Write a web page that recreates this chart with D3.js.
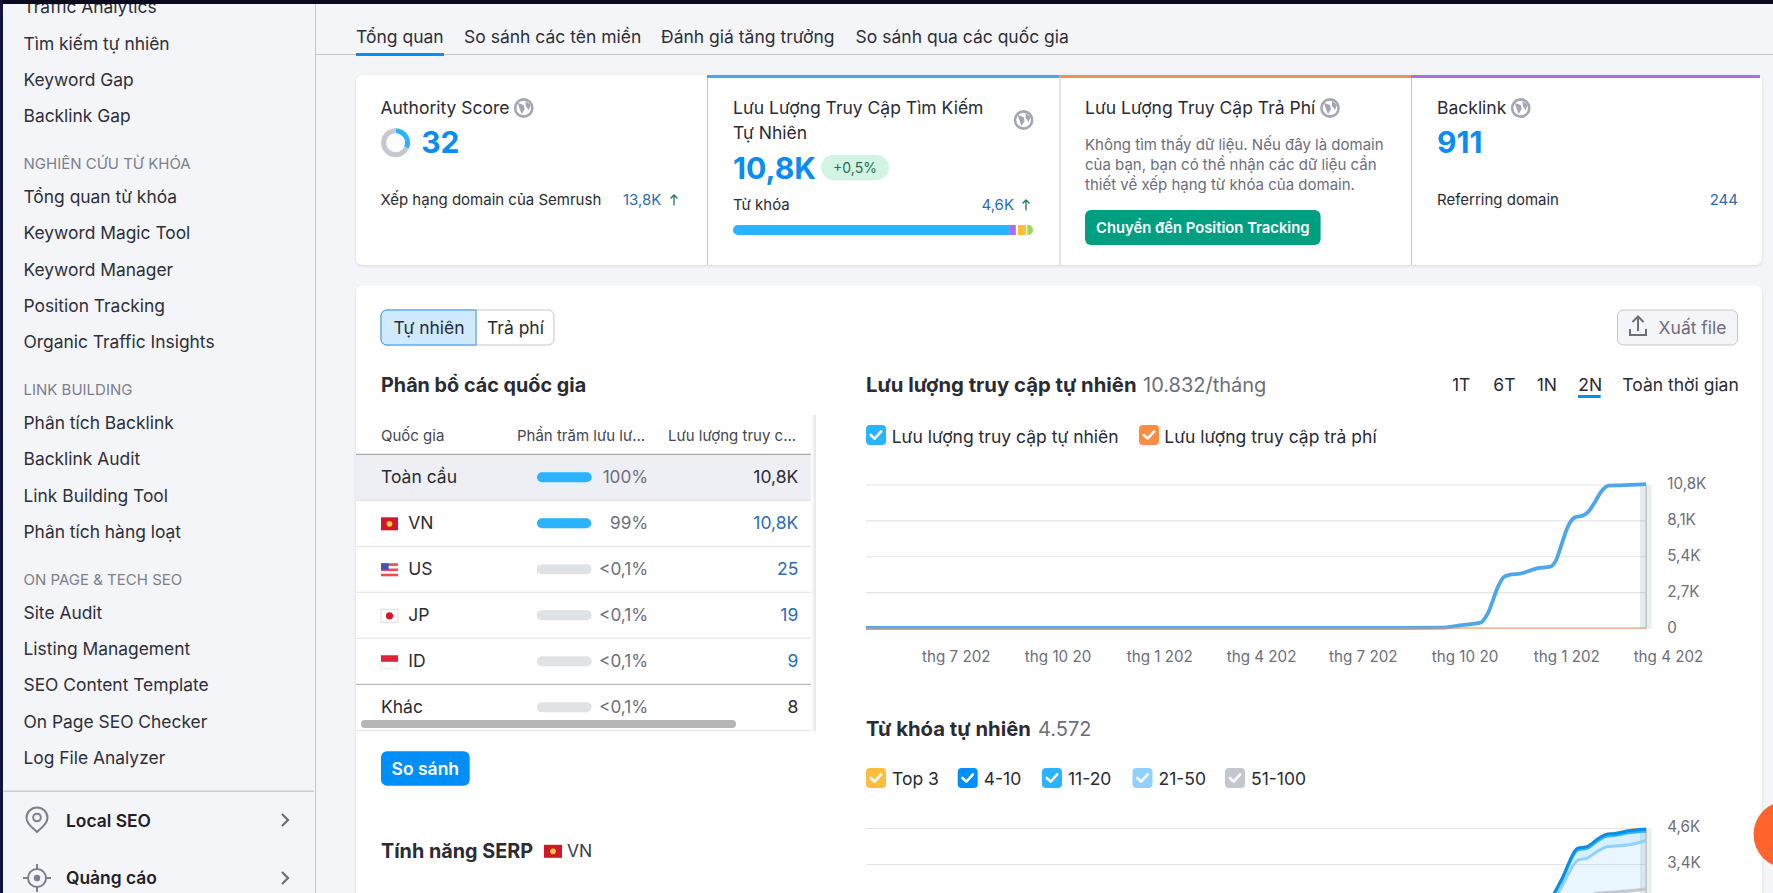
<![CDATA[<!DOCTYPE html>
<html lang="vi"><head><meta charset="utf-8">
<script src="https://cdn.jsdelivr.net/npm/d3@7/dist/d3.min.js"></script>
<style>html,body{margin:0;padding:0;background:#f4f5f9;overflow:hidden;width:1773px;height:893px}svg{display:block;font-family:Inter,"Noto Sans",sans-serif}</style>
</head><body><svg id="c" width="1773" height="893"></svg>
<script>
// ---------- DATA ----------
const months=["2022-05","2022-06","2022-07","2022-08","2022-09","2022-10","2022-11","2022-12","2023-01","2023-02","2023-03","2023-04","2023-05","2023-06","2023-07","2023-08","2023-09","2023-10","2023-11","2023-12","2024-01","2024-02","2024-03","2024-04"];
const xTickMonths=["2022-07","2022-10","2023-01","2023-04","2023-07","2023-10","2024-01","2024-04"];
const xTickLabels=["thg 7 202","thg 10 20","thg 1 202","thg 4 202","thg 7 202","thg 10 20","thg 1 202","thg 4 202"];
// organic traffic read along the drawn curve; position is in months from the first month
const organicPos=[0,2,4,6,8,10,12,14,16,17,17.5,18.12,18.31,18.66,18.8,19,19.29,19.78,20.18,20.35,20.52,20.72,20.91,21.16,21.3,21.5,21.7,21.9,22.24,23];
const organicTraffic=[2,3,3,4,5,5,6,7,8,25,201,401,978,3236,3813,4014,4089,4491,4616,5118,6372,7752,8329,8479,8755,9508,10335,10712,10737,10832];
const paidTraffic=[0,0,0,0,0,0,0,0,0,0,0,0,0,0,0,0,0,0,0,0,0,0,0,0];
const trafficTicks=[0,2700,5400,8100,10800];
const trafficTickLabels=["0","2,7K","5,4K","8,1K","10,8K"];
// keyword series read along the drawn curves, same position unit
const kwPos=[0,1,2,3,4,5,6,7,8,9,10,11,12,13,14,15,16,17,18,19,20,20.5,21,21.25,21.6,21.85,22.1,22.45,23];
const kwTop3=[0,0,0,0,0,0,0,0,0,0,0,0,0,0,0,0,0,0,0,1,8,8,5,5,5,6,6,8,14];
const kw4to10=[0,0,0,0,0,0,0,0,0,0,0,0,0,0,0,0,0,0,1,4,22,30,50,50,55,60,60,60,60];
const kw11to20=[0,0,0,0,0,0,0,0,0,0,0,0,0,0,0,0,0,1,7,25,128,200,328,315,336,340,340,389,304];
const kw21to50=[0,0,0,0,0,0,1,1,1,1,1,1,1,1,2,2,2,5,22,95,620,880,1182,1205,1351,1463,1469,1469,1543];
const kw51to100=[1,1,1,1,2,2,2,2,2,3,3,3,3,3,4,4,5,12,55,190,1170,1820,2395,2427,2523,2539,2555,2587,2651];
const kwTicks=[3450,4600];
const kwTickLabels=["3,4K","4,6K"];
const kwSeriesNames=["Top 3","4-10","11-20","21-50","51-100"];
const kwSeriesColors=["#ffbd3d","#008ff8","#2bb3ff","#8fd0ff","#c4c7cf"];
const countries=["Toàn cầu","VN","US","JP","ID","Khác"];
const countryShare=[100,99,0.23,0.18,0.08,0.07];
const countryShareLabels=["100%","99%","<0,1%","<0,1%","<0,1%","<0,1%"];
const countryTraffic=["10,8K","10,8K","25","19","9","8"];
const keywordBarShare=[92.3,2,0.7,2.8,0.3,1.9];
const keywordBarColors=["#2bb3ff","#ae6ce6","#ffffff","#ffbd3d","#ffffff","#9ed84f"];
const authorityScore=32;
const sidebarGroups=[
 {head:null,items:["Traffic Analytics","Tìm kiếm tự nhiên","Keyword Gap","Backlink Gap"]},
 {head:"NGHIÊN CỨU TỪ KHÓA",items:["Tổng quan từ khóa","Keyword Magic Tool","Keyword Manager","Position Tracking","Organic Traffic Insights"]},
 {head:"LINK BUILDING",items:["Phân tích Backlink","Backlink Audit","Link Building Tool","Phân tích hàng loạt"]},
 {head:"ON PAGE & TECH SEO",items:["Site Audit","Listing Management","SEO Content Template","On Page SEO Checker","Log File Analyzer"]}];
const rangeLabels=["1T","6T","1N","2N","Toàn thời gian"];
const tabs=["Tổng quan","So sánh các tên miền","Đánh giá tăng trưởng","So sánh qua các quốc gia"];

// ---------- HELPERS ----------
const svg=d3.select("#c");
const defs=svg.append("defs");
const sh=defs.append("filter").attr("id","sh").attr("x","-5%").attr("y","-5%").attr("width","110%").attr("height","115%");
sh.append("feDropShadow").attr("dx",0).attr("dy",1).attr("stdDeviation",1.5).attr("flood-color","#000").attr("flood-opacity",.12);
const DARK="#2a2b33",GREY="#6c6e79",LINK="#2a6cb5",BLUE="#008ff8";
const F=17.5,FS=15;
function T(g,s,x,cy,o={}){
  const size=o.size||F;
  return g.append("text").text(s).attr("x",x).attr("y",cy+size*0.36)
    .attr("font-size",size).attr("font-weight",o.w||400).attr("fill",o.fill||DARK)
    .attr("text-anchor",o.anchor||"start");
}
function R(g,x,y,w,h,f,r=0){return g.append("rect").attr("x",x).attr("y",y).attr("width",w).attr("height",h).attr("fill",f).attr("rx",r);}
function globe(g,x,y){
  const a=g.append("g").attr("transform",`translate(${x},${y})`);
  a.append("circle").attr("r",8.6).attr("fill","#fff").attr("stroke","#a4a6b3").attr("stroke-width",2.6);
  a.append("path").attr("d","M-6,-5 L0,-3 L1,1 L-2,6 L-4,1 Z M2,-7 L7,-3 L5,2 L2,-2 Z").attr("fill","#a4a6b3");
}
function check(g,x,y,c,s=20){
  R(g,x,y,s,s,c,4);
  g.append("path").attr("d",`M${x+s*.24},${y+s*.5} L${x+s*.43},${y+s*.68} L${x+s*.76},${y+s*.32}`)
   .attr("fill","none").attr("stroke","#fff").attr("stroke-width",2.6).attr("stroke-linecap","round").attr("stroke-linejoin","round");
}
function flag(g,code,x,cy,w=17,h=13){
  const y=cy-h/2, a=g.append("g");
  if(code==="VN"){R(a,x,y,w,h,"#d5152b");a.append("circle").attr("cx",x+w/2).attr("cy",cy).attr("r",h*.22).attr("fill","#fcd03a");}
  if(code==="US"){R(a,x,y,w,h,"#fff");[0,2,4].forEach(i=>R(a,x,y+i*h/5,w,h/5,"#ef4a55"));R(a,x,y,w*.45,h*.5,"#4650b8");}
  if(code==="JP"){R(a,x,y,w,h,"#fff").attr("stroke","#dcdde2");a.append("circle").attr("cx",x+w/2).attr("cy",cy).attr("r",h*.28).attr("fill","#d5152b");}
  if(code==="ID"){R(a,x,y,w,h,"#fff").attr("stroke","#e6e7ea");R(a,x,y,w,h/2,"#e2203a");}
}

// ---------- SIDEBAR ----------
const side=svg.append("g");
R(side,315,0,1,893,"#c4c7cf");
let sy=7.2;
sidebarGroups.forEach((grp,gi)=>{
  if(grp.head){sy+=47.4-36.25;T(side,grp.head,23.5,sy+.6,{size:15,fill:"#7d7f8a"});sy+=33.6;}
  grp.items.forEach(it=>{T(side,it,23.5,sy,{size:17.4,fill:"#2e2f38"});sy+=36.25;});
});
R(side,3,790.5,311,1.3,"#c4c7cf");
T(side,"Local SEO",66,820.3,{size:17.4,w:600,fill:"#1f2027"});
T(side,"Quảng cáo",66,877.7,{size:17.4,w:600,fill:"#1f2027"});
const pin=side.append("g").attr("transform","translate(37,820)").attr("fill","none").attr("stroke","#7d7f8a").attr("stroke-width",2);
pin.append("path").attr("d","M0,12 C-4,8 -10.5,4 -10.5,-2 A10.5,10.5 0 1 1 10.5,-2 C10.5,4 4,8 0,12 Z");
pin.append("circle").attr("cy",-2.5).attr("r",3.8);
const tgt=side.append("g").attr("transform","translate(37,878)").attr("fill","none").attr("stroke","#7d7f8a").attr("stroke-width",2);
tgt.append("circle").attr("r",9);tgt.append("circle").attr("r",2.2).attr("fill","#7d7f8a");
tgt.append("path").attr("d","M0,-14 V-9 M0,9 V14 M-14,0 H-9 M9,0 H14");
[820,878].forEach(y=>side.append("path").attr("d",`M282,${y-6} L288,${y} L282,${y+6}`).attr("fill","none").attr("stroke","#6c6e79").attr("stroke-width",2.2));

// ---------- TABS ----------
R(svg,316,54,1457,1,"#c4c7cf");
[356,464,661,855.6].forEach((x,i)=>T(svg,tabs[i],x,37,{fill:"#2e2f38"}));
R(svg,356,53,88,3,BLUE);

// ---------- KPI CARDS ----------
const cards=svg.append("g");
R(cards,356,75,1406,190,"#fff",7).attr("filter","url(#sh)");
[707,1059.5,1411].forEach(x=>R(cards,x,75,1,190,"#c4c7cf"));
R(cards,707,75,352.5,3,"#4ea6ea");R(cards,1059.5,75,351.5,3,"#f58f54");R(cards,1411,75,349,3,"#ae6ce6");

T(cards,"Authority Score",380.4,108);globe(cards,523.7,108);
const donut=cards.append("g").attr("transform","translate(395.6,142.7)");
const arcGen=d3.arc().innerRadius(9.5).outerRadius(14.5);
const pieData=d3.pie().sort(null)([authorityScore,100-authorityScore]);
donut.selectAll("path").data(pieData).join("path").attr("d",arcGen).attr("fill",(d,i)=>i?"#c4c7cf":"#2bb3ff");
T(cards,String(authorityScore),421.2,142.3,{size:30,w:700,fill:"#0a8cf0"});
T(cards,"Xếp hạng domain của Semrush",380.4,200,{size:FS});
T(cards,"13,8K",623,200,{size:FS,fill:LINK});
function up(g,x,y){g.append("path").attr("d",`M${x},${y+5.5} V${y-5} M${x-3.5},${y-1.5} L${x},${y-5} L${x+3.5},${y-1.5}`).attr("fill","none").attr("stroke","#1f7a5c").attr("stroke-width",1.3);}
up(cards,674,200);

T(cards,"Lưu Lượng Truy Cập Tìm Kiếm",733,108);T(cards,"Tự Nhiên",733,132.7);globe(cards,1023.6,120);
T(cards,"10,8K",733,167.7,{size:30.2,w:700,fill:"#0a8cf0"});
R(cards,821,155,68,25,"#d1f5e2",12.5);
T(cards,"+0,5%",855,167.5,{size:14,fill:"#1f6e4e",anchor:"middle"});
T(cards,"Từ khóa",733,205,{size:FS});T(cards,"4,6K",1014,205,{size:FS,fill:LINK,anchor:"end"});up(cards,1026,205);
const kwBarX=d3.scaleLinear().domain([0,d3.sum(keywordBarShare)]).range([733,1033]);
defs.append("clipPath").attr("id","kwb").append("rect").attr("x",733).attr("y",225).attr("width",300).attr("height",10).attr("rx",5);
let acc=0;
cards.append("g").attr("clip-path","url(#kwb)").selectAll("rect").data(keywordBarShare).join("rect")
 .each(function(d,i){d3.select(this).attr("x",kwBarX(acc)).attr("width",kwBarX(acc+d)-kwBarX(acc));acc+=d;})
 .attr("y",225).attr("height",10).attr("fill",(d,i)=>keywordBarColors[i]);

T(cards,"Lưu Lượng Truy Cập Trả Phí",1085,108);globe(cards,1330,108);
["Không tìm thấy dữ liệu. Nếu đây là domain","của bạn, bạn có thể nhận các dữ liệu cần","thiết về xếp hạng từ khóa của domain."].forEach((s,i)=>T(cards,s,1085,145+i*20,{size:FS,fill:GREY}));
R(cards,1085,210,235.6,35,"#009f81",6);
T(cards,"Chuyển đến Position Tracking",1202.8,227.5,{size:14.8,w:600,fill:"#fff",anchor:"middle"});

T(cards,"Backlink",1437,108);globe(cards,1520.7,108);
T(cards,"911",1437,142.3,{size:30,w:700,fill:"#0a8cf0"});
T(cards,"Referring domain",1437,200,{size:FS});T(cards,"244",1738,200,{size:FS,fill:LINK,anchor:"end"});

// ---------- MAIN PANEL ----------
const panel=svg.append("g");
R(panel,356,285,1406,700,"#fff",7).attr("filter","url(#sh)");
// toggle
R(panel,381,310,173,35,"#fff",6).attr("stroke","#c4c7cf");
panel.append("path").attr("d","M476,310 H387 a6,6 0 0 0 -6,6 V339 a6,6 0 0 0 6,6 H476 Z").attr("fill","#cfe9ff").attr("stroke","#3a8fd6");
T(panel,"Tự nhiên",429,328,{anchor:"middle"});T(panel,"Trả phí",515.5,328,{anchor:"middle"});
// export
R(panel,1617.5,310,120,35,"#f4f5f9",6).attr("stroke","#c4c7cf");
panel.append("path").attr("d","M1638,331 V317 M1632.5,322 L1638,316.5 L1643.5,322 M1630,329 V335 H1646 V329").attr("fill","none").attr("stroke",GREY).attr("stroke-width",2);
T(panel,"Xuất file",1658.6,328,{fill:GREY});

// ---------- COUNTRY TABLE ----------
const tbl=panel.append("g");
T(tbl,"Phân bổ các quốc gia",381,385,{size:19.8,w:700});
const rowY=d3.scaleBand().domain(countries).range([454.3,730.3]);
const shareX=d3.scaleLinear().domain([0,100]).range([0,54.7]);
R(tbl,356,rowY("Toàn cầu"),456,46,"#eeeff4");
T(tbl,"Quốc gia",381,436,{size:FS,fill:"#45464f"});
T(tbl,"Phần trăm lưu lư...",517,436,{size:FS,fill:"#45464f"});
T(tbl,"Lưu lượng truy c...",668,436,{size:FS,fill:"#45464f"});
countries.forEach((c,i)=>{
  const rowTop=rowY(c),cy=rowTop+rowY.bandwidth()/2;
  const ty=cy-.8;
  const isFlag=i>0&&i<5;
  if(isFlag){flag(tbl,c,381,cy+0.5);T(tbl,c,408.3,ty,{});}
  else T(tbl,c,381,ty,{});
  R(tbl,537,cy-5,54.7,10,"#dfe3e6",5);
  R(tbl,537,cy-5,shareX(countryShare[i]),10,"#2bb3ff",5);
  T(tbl,countryShareLabels[i],648.2,ty,{size:17.2,fill:GREY,anchor:"end"});
  T(tbl,countryTraffic[i],798.3,ty,{fill:isFlag?LINK:DARK,anchor:"end"});
  R(tbl,356,rowTop+rowY.bandwidth()-.5,456,1,(i===4)?"#a8aab2":"#dfe1e6");
});
R(tbl,356,453.8,456,1.2,"#a8aab2");
defs.append("linearGradient").attr("id","tsh").selectAll("stop").data([["0%","#fff"],["100%","#e4e5e8"]]).join("stop").attr("offset",d=>d[0]).attr("stop-color",d=>d[1]);
R(tbl,811,415,5,316,"url(#tsh)");
R(tbl,361,720,375,8,"#b5b5b8",4);
R(tbl,381,751.3,88.7,34.4,BLUE,6);
T(tbl,"So sánh",425.3,768.5,{w:600,fill:"#fff",anchor:"middle"});
T(tbl,"Tính năng SERP",381,851,{size:19.8,w:700});
flag(tbl,"VN",544,851.3,18,13);
T(tbl,"VN",567,851,{fill:"#3a3b44"});

// ---------- TRAFFIC CHART ----------
const chart1=panel.append("g");
T(chart1,"Lưu lượng truy cập tự nhiên",866,385,{size:20.3,w:700});
T(chart1,"10.832/tháng",1143,385,{size:20,fill:GREY});
[1452,1493.3,1536.7,1578.3,1622.3].forEach((x,i)=>T(chart1,rangeLabels[i],x,385,{}));
R(chart1,1578,395,22.7,3,BLUE);
check(chart1,866,425,"#2bb3ff");T(chart1,"Lưu lượng truy cập tự nhiên",891.7,437,{});
check(chart1,1139,425,"#ff8c43");T(chart1,"Lưu lượng truy cập trả phí",1164.3,437,{});

const xScale=d3.scalePoint().domain(months).range([866,1646]);
const xPos=d3.scaleLinear().domain([0,months.length-1]).range([866,1646]);
const y1=d3.scaleLinear().domain([0,10800]).range([628,484.5]);
function styleAxis(g){g.select(".domain").remove();g.selectAll("text").attr("font-family","Inter,'Noto Sans',sans-serif").attr("font-size",15.2).attr("fill",GREY);}
chart1.append("g").attr("transform","translate(1646,0)")
 .call(d3.axisRight(y1).tickValues(trafficTicks).tickSize(-780).tickPadding(21.3).tickFormat((d,i)=>trafficTickLabels[i]))
 .call(styleAxis).call(g=>g.selectAll("line").attr("stroke","#e3e4e8").attr("stroke-width",1.2))
 .call(g=>g.selectAll("text").attr("dy","0.28em"));
chart1.append("g").attr("transform","translate(0,651)")
 .call(d3.axisBottom(xScale).tickValues(xTickMonths).tickSize(0).tickPadding(0).tickFormat((d,i)=>xTickLabels[i]))
 .call(styleAxis).call(g=>g.selectAll("text").attr("dx",22).attr("dy","0.75em"));
const line1=d3.line().x((d,i)=>xPos(organicPos[i])).y(d=>y1(d)).curve(d3.curveMonotoneX);
const linePaid=d3.line().x((d,i)=>xScale(months[i])).y(d=>y1(d)).curve(d3.curveMonotoneX);
function hover(g,yTop,yBot){
  R(g,1640,yTop,6,yBot-yTop,"#9fb0b8").attr("opacity",.25);
  R(g,1646.6,yTop,5,yBot-yTop,"#dfe4e6").attr("opacity",.6);
  R(g,1645.6,yTop,1.1,yBot-yTop,"#a9b4bc");
}
hover(chart1,485,628.5);
chart1.append("path").attr("d",line1(organicTraffic)).attr("fill","none").attr("stroke","#4ea6ea").attr("stroke-width",3.8).attr("stroke-linejoin","round");
chart1.append("path").attr("d",linePaid(paidTraffic)).attr("fill","none").attr("stroke","#f58f54").attr("stroke-width",1.8).attr("opacity",.5);

// ---------- KEYWORD CHART ----------
const chart2=panel.append("g");
T(chart2,"Từ khóa tự nhiên",866,728.7,{size:20.3,w:700});
T(chart2,"4.572",1038,728.7,{size:20,fill:GREY});
[866,957.7,1042,1132.5,1225].forEach((cx,i)=>{check(chart2,cx,768,kwSeriesColors[i]);T(chart2,kwSeriesNames[i],cx+26,779,{});});
const y2=d3.scaleLinear().domain([0,4600]).range([972,828]);
chart2.append("g").attr("transform","translate(1646,0)")
 .call(d3.axisRight(y2).tickValues(kwTicks).tickSize(-780).tickPadding(21.3).tickFormat((d,i)=>kwTickLabels[i]))
 .call(styleAxis).call(g=>g.selectAll("line").attr("stroke","#e3e4e8").attr("stroke-width",1.2))
 .call(g=>g.selectAll("text").attr("dy","0.22em"));
const kwRows=kwPos.map((p,i)=>({p,"Top 3":kwTop3[i],"4-10":kw4to10[i],"11-20":kw11to20[i],"21-50":kw21to50[i],"51-100":kw51to100[i]}));
const kwStack=d3.stack().keys(kwSeriesNames.slice().reverse())(kwRows);
const colorOf=d3.scaleOrdinal(kwSeriesNames,kwSeriesColors);
const kwArea=d3.area().x(d=>xPos(d.data.p)).y0(d=>y2(d[0])).y1(d=>y2(d[1])).curve(d3.curveMonotoneX);
const kwLine=d3.line().x(d=>xPos(d.data.p)).y(d=>y2(d[1])).curve(d3.curveMonotoneX);
hover(chart2,828,972);
chart2.selectAll(".ka").data(kwStack).join("path").attr("class","ka").attr("d",kwArea).attr("fill",d=>colorOf(d.key)).attr("opacity",.2);
// the 4-10 line is painted last, so Top 3 only shows as a hint at its edge
const drawOrder=["51-100","21-50","11-20","Top 3","4-10"].map(k=>kwStack.find(s=>s.key===k));
chart2.selectAll(".kl").data(drawOrder).join("path").attr("class","kl").attr("d",kwLine).attr("fill","none").attr("stroke",d=>colorOf(d.key)).attr("stroke-width",3);

// ---------- OVERLAYS ----------
R(svg,0,0,1773,4,"#0a0a1f");
R(svg,0,0,3,893,"#14143a");
svg.append("circle").attr("cx",1787).attr("cy",834.5).attr("r",33.5).attr("fill","#ff642d");
</script></body></html>]]>
